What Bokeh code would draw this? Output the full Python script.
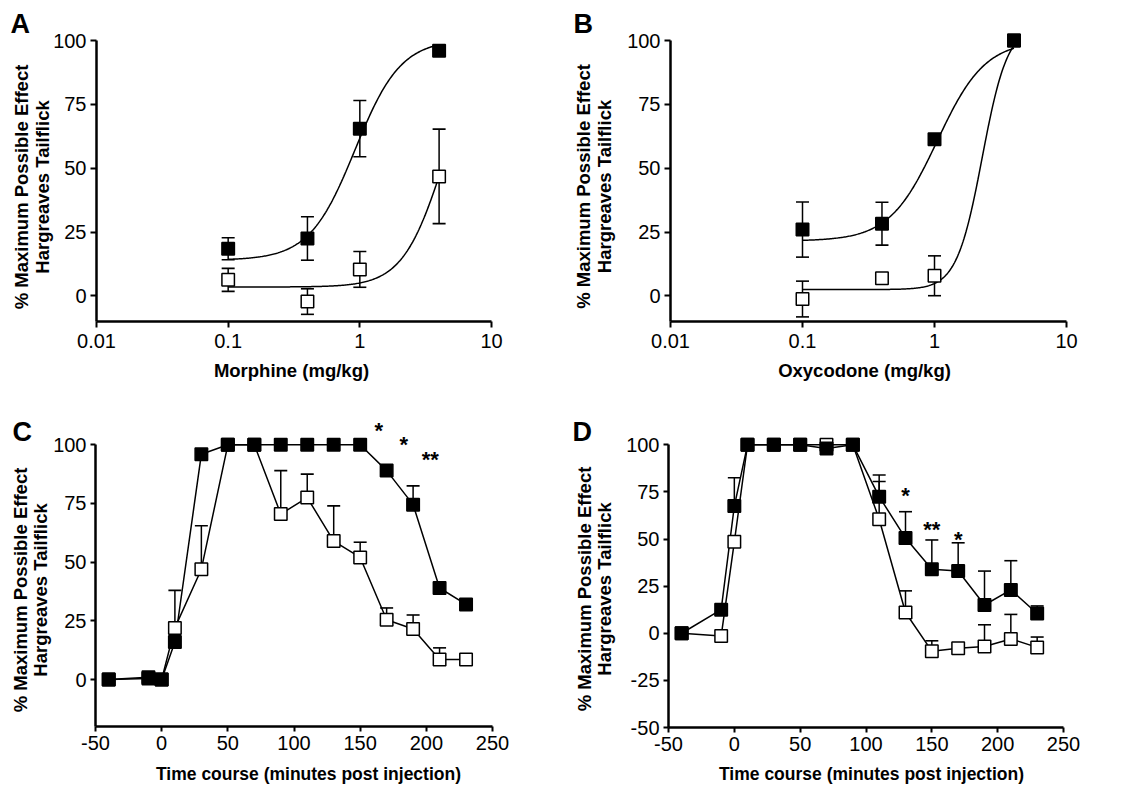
import numpy as np
from bokeh.plotting import figure
from bokeh.models import (FixedTicker, CustomJSTickFormatter, Label, Range1d,
                          LinearAxis, LogAxis)
from bokeh.layouts import column, row
from bokeh.embed import file_html
from bokeh.resources import INLINE
from bokeh.core.properties import value

FONT = "Liberation Sans"

# ---------------- data ----------------
# Panel A: morphine dose-response (mg/kg)
morphine_dose = [0.1, 0.4, 1.0, 4.0]
morphine_filled = [18.5, 22.5, 65.5, 96.0]
morphine_filled_err = [4.3, 8.5, 11.0, 0.0]
morphine_open = [6.3, -2.2, 10.4, 46.8]
morphine_open_err = [4.5, 5.0, 7.0, 18.5]
# sigmoid fits: bottom, top, ED50, Hill slope
morphine_filled_fit = [14.0, 100.5, 0.92, 2.5]
morphine_open_fit = [3.5, 100.0, 4.3, 2.8]

# Panel B: oxycodone dose-response (mg/kg)
oxycodone_dose = [0.1, 0.4, 1.0, 4.0]
oxycodone_filled = [26.0, 28.3, 61.3, 100.0]
oxycodone_filled_err = [10.8, 8.4, 0.0, 0.0]
oxycodone_open = [-1.2, 6.9, 7.9, 100.0]
oxycodone_open_err = [7.0, 0.0, 7.8, 0.0]
oxycodone_filled_fit = [21.5, 100.0, 1.05, 2.4]
oxycodone_open_fit = [2.5, 106.0, 2.3, 4.5]

# Panels C and D: time course (minutes post injection)
time_min = [-40, -10, 0, 10, 30, 50, 70, 90, 110, 130, 150, 170, 190, 210, 230]

c_filled = [0, 1, 0, 16, 96, 100, 100, 100, 100, 100, 100, 89, 74.5, 39, 32]
c_filled_err = [0, 0, 0, 0, 0, 0, 0, 0, 0, 0, 0, 0, 8, 0, 0]
c_open = [0, 0.5, 0, 22, 47, 100, 100, 70.5, 77.5, 59, 52, 25.5, 21.5, 8.5, 8.5]
c_open_err = [0, 0, 0, 16, 18.5, 0, 0, 18.5, 10, 15, 6.5, 5, 6, 5, 0]
c_star_x = [164, 183, 203]
c_star_y = [107.7, 101.8, 95.4]
c_star_text = ["*", "*", "**"]

d_filled = [0, 12.5, 67.5, 100, 100, 100, 98, 100, 72.5, 50.5, 34, 33, 15, 23, 10.5]
d_filled_err = [0, 0, 15, 0, 0, 0, 0, 0, 11.5, 14, 15.5, 15, 18, 15.5, 4]
d_open = [0, -1.5, 48.5, 100, 100, 100, 100, 100, 60.5, 11, -9.5, -8, -7, -3, -7.5]
d_open_err = [0, 0, 0, 0, 0, 0, 0, 0, 20, 11.5, 5.5, 0, 11.5, 13, 5.5]
d_star_x = [130, 150, 170]
d_star_y = [75, 57, 52]
d_star_text = ["*", "**", "*"]

dose_ticks = [0.01, 0.1, 1, 10]
time_ticks = [-50, 0, 50, 100, 150, 200, 250]
pct_ticks_abc = [0, 25, 50, 75, 100]
pct_ticks_d = [-50, -25, 0, 25, 50, 75, 100]

y_title_1 = "% Maximum Possible Effect"
y_title_2 = "Hargreaves Tailflick"


def sigmoid(x, fit):
    b, t, ec50, h = fit
    return b + (t - b) / (1.0 + 10 ** ((np.log10(ec50) - np.log10(x)) * h))


def make_panel(origin, W, H, px0, px1, xr, log_x, py_top, py_bot, vmin,
               xticks, yticks, tick_out, x_standoff):
    """Frame covers the whole canvas; axes are drawn at fixed data locations."""
    ox, oy = origin
    fx0, fx1 = px0 - ox, px1 - ox
    fy_top, fy_bot = py_top - oy, py_bot - oy
    if log_x:
        l0, l1 = np.log10(xr[0]), np.log10(xr[1])
        dpx = (fx1 - fx0) / (l1 - l0)
        x_range = Range1d(10 ** (l0 - fx0 / dpx), 10 ** (l1 + (W - fx1) / dpx))
    else:
        ppx = (fx1 - fx0) / (xr[1] - xr[0])
        x_range = Range1d(xr[0] - fx0 / ppx, xr[1] + (W - fx1) / ppx)
    ppu = (fy_bot - fy_top) / (100.0 - vmin)
    y_range = Range1d(vmin - (H - fy_bot) / ppu, 100.0 + fy_top / ppu)
    p = figure(width=W, height=H, x_axis_type="log" if log_x else "linear",
               x_axis_location=None, y_axis_location=None,
               x_range=x_range, y_range=y_range,
               output_backend="svg", toolbar_location=None, min_border=0)
    p.outline_line_color = None
    p.grid.grid_line_color = None
    p.background_fill_color = "white"
    p.border_fill_color = "white"
    XAxis = LogAxis if log_x else LinearAxis
    xax = XAxis(fixed_location=vmin, bounds=tuple(xr), ticker=FixedTicker(ticks=xticks),
                formatter=CustomJSTickFormatter(code="return String(tick)"),
                major_label_standoff=x_standoff)
    yax = LinearAxis(fixed_location=xr[0], bounds=(vmin, 100), ticker=FixedTicker(ticks=yticks),
                     formatter=CustomJSTickFormatter(code="return String(tick)"),
                     major_label_standoff=4)
    for ax in (xax, yax):
        ax.axis_line_width = 2.5
        ax.axis_line_color = "black"
        ax.major_tick_line_width = 2
        ax.major_tick_line_color = "black"
        ax.major_tick_in = 0
        ax.major_tick_out = tick_out
        ax.minor_tick_line_color = None
        ax.major_label_text_font = FONT
        ax.major_label_text_font_size = "20px"
        ax.major_label_text_color = "black"
    p.add_layout(xax, "below")
    p.add_layout(yax, "left")
    p._geom = (ox, oy, H)
    return p


def add_label(p, page_x, page_y, text, size_px, align="left", angle=0.0):
    """page_x/page_y: baseline anchor in page pixels; compensates Bokeh's baseline shift."""
    ox, oy, H = p._geom
    shift = 0.36 * size_px
    if angle:
        page_x -= shift
    else:
        page_y -= shift
    p.add_layout(Label(x=page_x - ox, y=H - (page_y - oy), x_units="screen", y_units="screen",
                       text=text, text_font=FONT, text_font_size=f"{size_px}px",
                       text_font_style="bold", text_align=align,
                       text_baseline="alphabetic", text_color="black", angle=angle))


def draw_err(p, x, y, err, symmetric):
    sel = [i for i, e in enumerate(err) if e > 0]
    ex = [x[i] for i in sel]
    ey = [y[i] for i in sel]
    ee = [err[i] for i in sel]
    hi = [a + e for a, e in zip(ey, ee)]
    lo = [a - e for a, e in zip(ey, ee)] if symmetric else ey
    p.segment(ex, lo, ex, hi, line_color="black", line_width=1.5)
    p.scatter(ex, hi, marker="dash", size=13, line_color="black", line_width=1.6)
    if symmetric:
        p.scatter(ex, lo, marker="dash", size=13, line_color="black", line_width=1.6)


def draw_markers(p, x, y, fill):
    p.scatter(x, y, marker="square", size=12.5, fill_color=fill,
              line_color="black", line_width=1.5)


# ---------------- panel A ----------------
pA = make_panel((0, 0), 560, 390, 96, 491, [0.01, 10], True, 40, 321, -10,
                dose_ticks, pct_ticks_abc, 6, 6)
xs = np.logspace(np.log10(morphine_dose[0]), np.log10(morphine_dose[-1]), 200)
draw_err(pA, morphine_dose, morphine_open, morphine_open_err, True)
draw_err(pA, morphine_dose, morphine_filled, morphine_filled_err, True)
pA.line(xs, sigmoid(xs, morphine_open_fit), line_color="black", line_width=1.5)
pA.line(xs, sigmoid(xs, morphine_filled_fit), line_color="black", line_width=1.5)
draw_markers(pA, morphine_dose, morphine_open, "white")
draw_markers(pA, morphine_dose, morphine_filled, "black")

# ---------------- panel B ----------------
pB = make_panel((560, 0), 562, 390, 670, 1066, [0.01, 10], True, 40, 321, -10,
                dose_ticks, pct_ticks_abc, 6, 6)
xs = np.logspace(np.log10(oxycodone_dose[0]), np.log10(oxycodone_dose[-1]), 200)
draw_err(pB, oxycodone_dose, oxycodone_open, oxycodone_open_err, True)
draw_err(pB, oxycodone_dose, oxycodone_filled, oxycodone_filled_err, True)
pB.line(xs, sigmoid(xs, oxycodone_open_fit), line_color="black", line_width=1.5)
pB.line(xs, sigmoid(xs, oxycodone_filled_fit), line_color="black", line_width=1.5)
draw_markers(pB, oxycodone_dose, oxycodone_open, "white")
draw_markers(pB, oxycodone_dose, oxycodone_filled, "black")

# ---------------- panel C ----------------
pC = make_panel((0, 390), 560, 397, 95, 492, [-50, 250], False, 444.3, 726, -20,
                time_ticks, pct_ticks_abc, 5, 4)
draw_err(pC, time_min, c_open, c_open_err, False)
draw_err(pC, time_min, c_filled, c_filled_err, False)
pC.line(time_min, c_open, line_color="black", line_width=1.5)
pC.line(time_min, c_filled, line_color="black", line_width=1.5)
draw_markers(pC, time_min, c_open, "white")
draw_markers(pC, time_min, c_filled, "black")
pC.text(c_star_x, c_star_y, text=c_star_text, text_font=value(FONT), text_font_size="22px",
        text_font_style="bold", text_align="center", text_baseline="middle", y_offset=4)

# ---------------- panel D ----------------
pD = make_panel((560, 390), 562, 397, 668, 1063, [-50, 250], False, 444.3, 727, -50,
                time_ticks, pct_ticks_d, 5, 4)
draw_err(pD, time_min, d_open, d_open_err, False)
draw_err(pD, time_min, d_filled, d_filled_err, False)
pD.line(time_min, d_open, line_color="black", line_width=1.5)
pD.line(time_min, d_filled, line_color="black", line_width=1.5)
draw_markers(pD, time_min, d_open, "white")
draw_markers(pD, time_min, d_filled, "black")
pD.text(d_star_x, d_star_y, text=d_star_text, text_font=value(FONT), text_font_size="22px",
        text_font_style="bold", text_align="center", text_baseline="middle", y_offset=4)

# ---------------- texts ----------------
add_label(pA, 10, 33, "A", 27)
add_label(pB, 573, 33, "B", 27)
add_label(pC, 12, 441, "C", 27)
add_label(pD, 572, 441, "D", 27)

for p, b1, b2, cy in ((pA, 28, 49, 186.5), (pB, 590, 611, 186),
                      (pC, 26.5, 47, 589.5), (pD, 591, 611, 588.5)):
    add_label(p, b1, cy, y_title_1, 18.5, align="center", angle=np.pi / 2)
    add_label(p, b2, cy, y_title_2, 18.5, align="center", angle=np.pi / 2)

add_label(pA, 291, 377, "Morphine (mg/kg)", 18.5, align="center")
add_label(pB, 864, 377, "Oxycodone (mg/kg)", 18.5, align="center")
add_label(pC, 308, 780, "Time course (minutes post injection)", 17.5, align="center")
add_label(pD, 871, 780, "Time course (minutes post injection)", 17.5, align="center")

layout = column(row(pA, pB), row(pC, pD))
open("out.html", "w").write(file_html(layout, INLINE))
